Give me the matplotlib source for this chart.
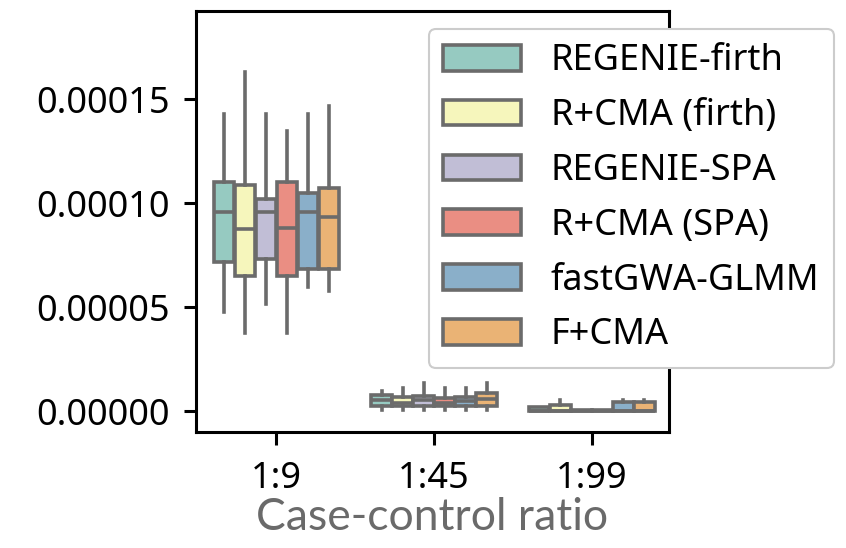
import numpy as np
import matplotlib
matplotlib.use("Agg")
import matplotlib.pyplot as plt
import seaborn as sns

# categories and methods
ratios = ['1:9', '1:45', '1:99']
methods = ['REGENIE-firth', 'R+CMA (firth)', 'REGENIE-SPA', 'R+CMA (SPA)',
           'fastGWA-GLMM', 'F+CMA']

# box stats per ratio, one value per method
whislo = [[4.75e-5, 3.77e-5, 5.15e-5, 3.77e-5, 5.95e-5, 5.78e-5],
          [0.05e-5, 0.05e-5, 0.05e-5, 0.05e-5, 0.05e-5, 0.05e-5],
          [0.0, 0.0, 0.0, 0.0, 0.0, 0.0]]
q1 = [[7.19e-5, 6.50e-5, 7.30e-5, 6.50e-5, 6.83e-5, 6.83e-5],
      [0.26e-5, 0.26e-5, 0.26e-5, 0.26e-5, 0.26e-5, 0.25e-5],
      [0.0, 0.0, 0.0, 0.0, 0.0, 0.0]]
med = [[9.56e-5, 8.74e-5, 9.56e-5, 8.82e-5, 9.56e-5, 9.35e-5],
       [0.53e-5, 0.40e-5, 0.53e-5, 0.37e-5, 0.50e-5, 0.58e-5],
       [0.0, 0.0, 0.0, 0.0, 0.0, 0.0]]
q3 = [[11.00e-5, 10.88e-5, 10.20e-5, 11.03e-5, 10.51e-5, 10.72e-5],
      [0.77e-5, 0.69e-5, 0.74e-5, 0.61e-5, 0.69e-5, 0.85e-5],
      [0.20e-5, 0.28e-5, 0.07e-5, 0.07e-5, 0.42e-5, 0.42e-5]]
whishi = [[14.29e-5, 16.30e-5, 14.29e-5, 13.49e-5, 14.29e-5, 14.68e-5],
          [0.96e-5, 1.09e-5, 1.33e-5, 1.09e-5, 1.09e-5, 1.33e-5],
          [0.20e-5, 0.53e-5, 0.07e-5, 0.07e-5, 0.53e-5, 0.53e-5]]

colors = [sns.desaturate(c, 0.75) for c in sns.color_palette('Set3', 6)]
gray = '#6b6b6b'

plt.rcParams['font.family'] = ['Noto Sans', 'DejaVu Sans']

fig = plt.figure(figsize=(8.46, 5.48), dpi=100)
ax = fig.add_axes([196/846, 1-432/548, (669-196)/846, (432-10.5)/548])

n = len(methods)
group_w = 0.8
w = group_w / n
for gi, r in enumerate(ratios):
    for mi in range(n):
        pos = gi - group_w/2 + w*(mi + 0.5)
        st = [dict(med=med[gi][mi], q1=q1[gi][mi], q3=q3[gi][mi],
                   whislo=whislo[gi][mi], whishi=whishi[gi][mi], fliers=[])]
        ax.bxp(st, positions=[pos], widths=w*0.98, patch_artist=True,
               showfliers=False,
               boxprops=dict(facecolor=colors[mi], edgecolor=gray, linewidth=2.6),
               medianprops=dict(color=gray, linewidth=2.6),
               whiskerprops=dict(color=gray, linewidth=2.6),
               capprops=dict(linewidth=0), manage_ticks=False)

ax.set_xlim(-0.51, 2.49)
ax.set_ylim(-1.01e-5, 1.927e-4)
ax.set_xticks(range(len(ratios)))
ax.set_xticklabels(ratios)
ax.set_yticks([0, 5e-5, 10e-5, 15e-5])
ax.set_yticklabels(['0.00000', '0.00005', '0.00010', '0.00015'])
ax.tick_params(labelsize=26, width=2.2, length=9, color='black')
ax.tick_params(axis='y', pad=10)
ax.tick_params(axis='x', pad=12)
for s in ax.spines.values():
    s.set_linewidth(2.2)

ax.set_xlabel('Case-control ratio', fontsize=32, color='#6a6a6a',
              family='Lato', fontweight='normal', labelpad=0)

handles = [plt.Rectangle((0, 0), 1, 1, facecolor=colors[i], edgecolor=gray,
                         linewidth=2.6) for i in range(n)]
leg = fig.legend(handles, methods, loc='upper right',
                 bbox_to_anchor=(834/846, 1-29/548), fontsize=26,
                 handlelength=2.16, handleheight=0.72, labelspacing=0.52,
                 handletextpad=0.83, borderpad=0.4, borderaxespad=0,
                 framealpha=1, edgecolor='#cccccc')
leg.get_frame().set_linewidth(1.5)

fig.savefig('out.png', dpi=100)
